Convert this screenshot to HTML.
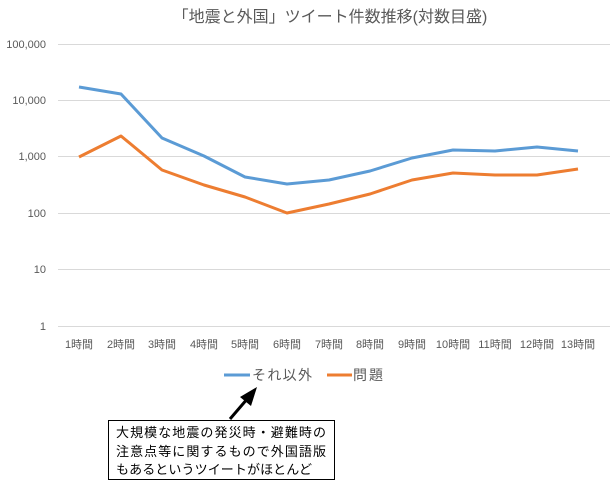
<!DOCTYPE html>
<html><head><meta charset="utf-8"><style>
body{margin:0;background:#fff;}
svg{display:block;font-family:"Liberation Sans","Noto Sans CJK JP",sans-serif;}
</style></head><body>
<svg width="615" height="483" viewBox="0 0 615 483">
<text x="330" y="22" font-size="16" fill="#595959" text-anchor="middle">「地震と外国」ツイート件数推移(対数目盛)</text>
<g stroke="#d9d9d9" stroke-width="1">
<line x1="58" y1="44.5" x2="610" y2="44.5"/>
<line x1="58" y1="100.5" x2="610" y2="100.5"/>
<line x1="58" y1="156.5" x2="610" y2="156.5"/>
<line x1="58" y1="213.5" x2="610" y2="213.5"/>
<line x1="58" y1="269.5" x2="610" y2="269.5"/>
<line x1="58" y1="326.5" x2="610" y2="326.5"/>
</g>
<g font-size="11" fill="#595959" text-anchor="end">
<text x="46" y="48">100,000</text>
<text x="46" y="104">10,000</text>
<text x="46" y="160">1,000</text>
<text x="46" y="217">100</text>
<text x="46" y="273">10</text>
<text x="46" y="330">1</text>
</g>
<g font-size="11" fill="#595959" text-anchor="middle">
<text x="79" y="348">1時間</text><text x="121" y="348">2時間</text><text x="162" y="348">3時間</text><text x="204" y="348">4時間</text><text x="245" y="348">5時間</text><text x="287" y="348">6時間</text><text x="329" y="348">7時間</text><text x="370" y="348">8時間</text><text x="412" y="348">9時間</text><text x="453" y="348">10時間</text><text x="495" y="348">11時間</text><text x="537" y="348">12時間</text><text x="578" y="348">13時間</text>
</g>
<polyline fill="none" stroke="#5b9bd5" stroke-width="3" stroke-linejoin="round" points="79,87 121,94 162,138 204,156 245,177 287,184 329,180 370,171 412,158 453,150 495,151 537,147 578,151"/>
<polyline fill="none" stroke="#ed7d31" stroke-width="3" stroke-linejoin="round" points="79,157 121,136 162,170 204,185 245,197 287,213 329,204 370,194 412,180 453,173 495,175 537,175 578,169"/>
<line x1="224" y1="375" x2="250" y2="375" stroke="#5b9bd5" stroke-width="3"/>
<text x="252" y="380" font-size="14" fill="#595959" textLength="60">それ以外</text>
<line x1="327" y1="375" x2="352" y2="375" stroke="#ed7d31" stroke-width="3"/>
<text x="353" y="380" font-size="14" fill="#595959" textLength="30">問題</text>
<line x1="230" y1="419" x2="248" y2="398" stroke="#000" stroke-width="3"/>
<polygon points="257,387 240,397 251,406" fill="#000"/>
<rect x="108.5" y="420.5" width="226" height="59" fill="#fff" stroke="#000" stroke-width="1"/>
<g font-size="13" fill="#000">
<text x="116" y="437" textLength="210">大規模な地震の発災時・避難時の</text>
<text x="116" y="456" textLength="210">注意点等に関するもので外国語版</text>
<text x="116" y="474" textLength="196">もあるというツイートがほとんど</text>
</g>
</svg>
</body></html>
